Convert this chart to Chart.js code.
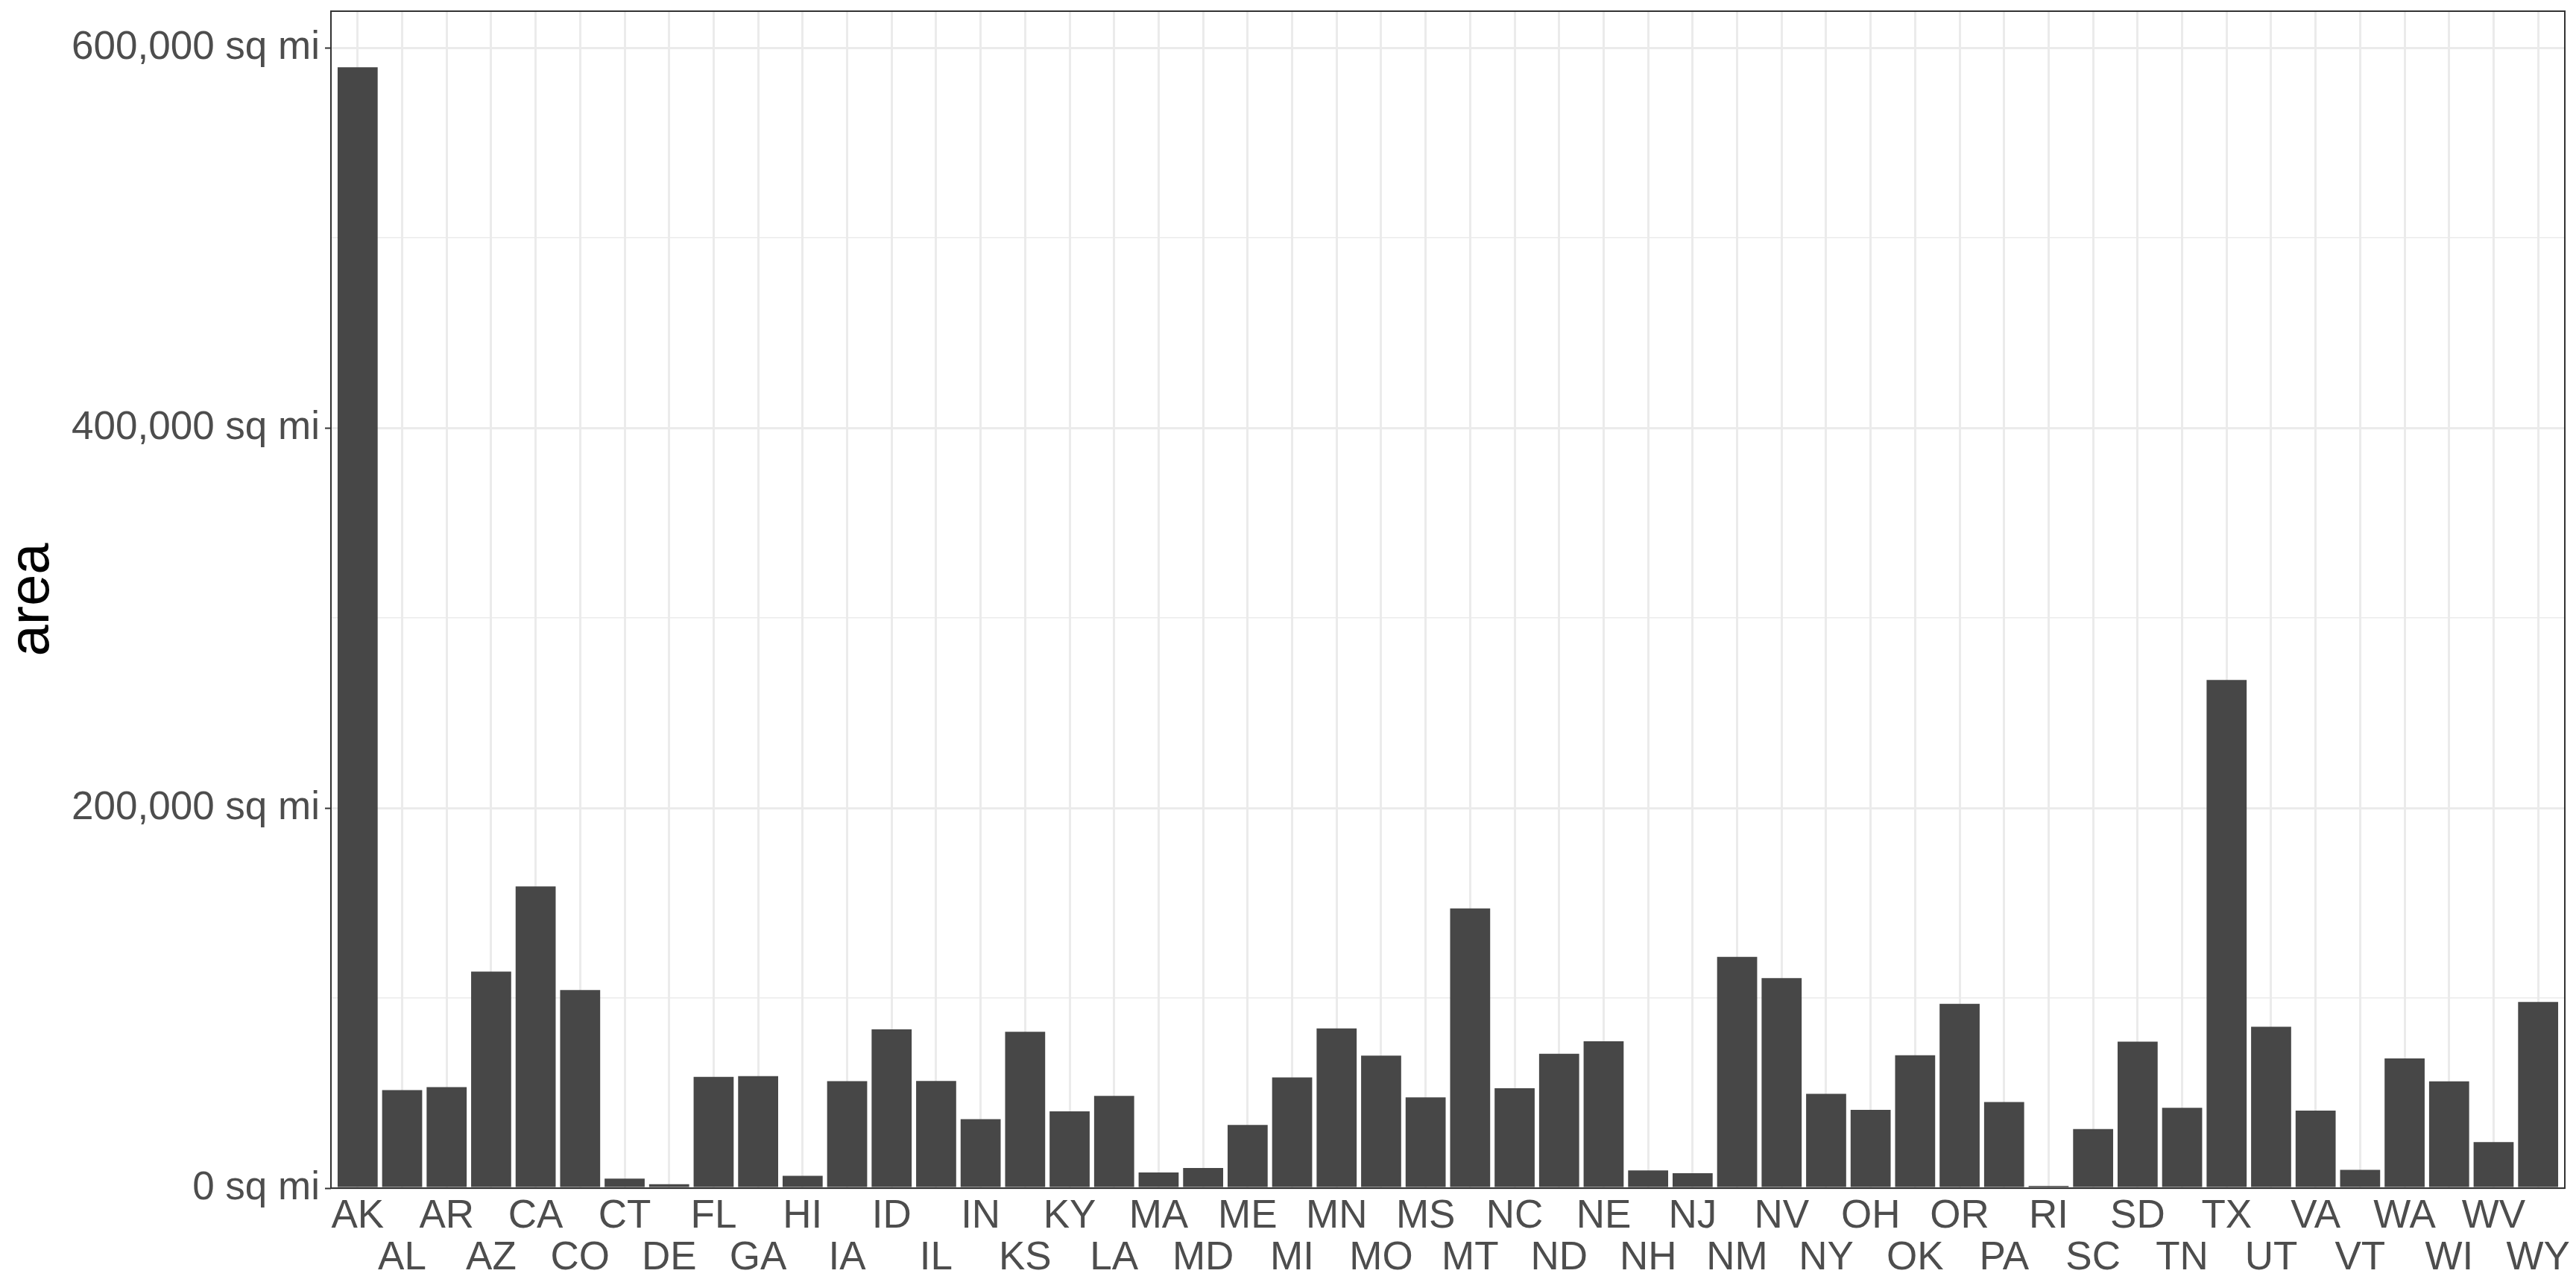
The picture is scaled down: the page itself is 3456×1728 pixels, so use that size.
<!DOCTYPE html>
<html>
<head>
<meta charset="utf-8">
<script src="https://cdn.jsdelivr.net/npm/chart.js@4/dist/chart.umd.min.js"></script>
<style>
  html, body { margin: 0; padding: 0; background: #ffffff; }
  #wrap { width: 3456px; height: 1728px; }
</style>
</head>
<body>
<div id="wrap"><canvas id="c" width="3456" height="1728"></canvas></div>
<script>
// ---- data ----
const states = ['AK','AL','AR','AZ','CA','CO','CT','DE','FL','GA','HI','IA','ID','IL','IN','KS','KY','LA','MA','MD',
                'ME','MI','MN','MO','MS','MT','NC','ND','NE','NH','NJ','NM','NV','NY','OH','OK','OR','PA','RI','SC',
                'SD','TN','TX','UT','VA','VT','WA','WI','WV','WY'];
const areaSqMi = [589757,51609,53104,113909,158693,104247,5009,2057,58560,58876,6450,56290,83557,56400,36291,82264,40395,48523,8257,10577,
                  33215,58216,84068,69686,47716,147138,52586,70665,77227,9304,7836,121666,110540,49576,41222,69919,96981,45333,1214,31055,
                  77047,42244,267339,84916,40815,9609,68192,56154,24181,97914];
const yLabelTicks = [0, 200000, 400000, 600000];
const yMinorTicks = [100000, 300000, 500000];
const yUnit = ' sq mi';
const yTitle = 'area';

// ---- chart ----
const FONT = "'Liberation Sans', Arial, sans-serif";
const points = states.map((s, i) => ({ x: i, y: areaSqMi[i] }));
const xMin = -0.6, xMax = states.length - 1 + 0.6;
const yMax = Math.max(...areaSqMi) * 1.05;
const yAllTicks = [...yLabelTicks, ...yMinorTicks].sort((a, b) => a - b);

const panelBorder = {
  id: 'panelBorder',
  afterDraw(chart) {
    const { ctx, chartArea: a } = chart;
    ctx.save();
    ctx.strokeStyle = '#333333';
    ctx.lineWidth = 2;
    ctx.strokeRect(a.left, a.top, a.right - a.left, a.bottom - a.top);
    ctx.restore();
  }
};

new Chart(document.getElementById('c'), {
  type: 'bar',
  data: {
    datasets: [{
      data: points,
      backgroundColor: '#474747',
      borderWidth: 0,
      categoryPercentage: 1.0,
      barPercentage: 0.9
    }]
  },
  plugins: [panelBorder],
  options: {
    responsive: false,
    animation: false,
    devicePixelRatio: 1,
    layout: { padding: { left: 0, top: 15, right: 15, bottom: 0 } },
    plugins: { legend: { display: false }, tooltip: { enabled: false }, title: { display: false } },
    scales: {
      x: {
        type: 'linear',
        offset: false,
        bounds: 'data',
        min: xMin,
        max: xMax,
        afterBuildTicks: (s) => { s.min = xMin; s.max = xMax; s.ticks = states.map((_, i) => ({ value: i })); },
        afterFit: (s) => { s.height = 134; s.paddingLeft = 0; s.paddingRight = 0; },
        border: { display: false },
        grid: { offset: false, color: '#EBEBEB', lineWidth: 3, drawTicks: false },
        ticks: {
          stepSize: 1,
          autoSkip: false,
          maxRotation: 0,
          minRotation: 0,
          padding: 10,
          color: '#4D4D4D',
          font: { family: FONT, size: 53, lineHeight: 56 / 53 },
          callback: (v) => {
            const lab = states[v];
            if (lab === undefined) return '';
            return v % 2 === 0 ? [lab] : ['', lab];
          }
        }
      },
      y: {
        type: 'linear',
        bounds: 'data',
        min: 0,
        max: yMax,
        afterBuildTicks: (s) => { s.min = 0; s.max = yMax; s.ticks = yAllTicks.map(v => ({ value: v })); },
        afterFit: (s) => { s.width = 444; s.paddingTop = 0; s.paddingBottom = 0; },
        border: { display: false },
        grid: {
          color: '#EBEBEB',
          lineWidth: (ctx) => yLabelTicks.includes(ctx.tick.value) ? 3 : 1.5,
          drawTicks: true,
          tickLength: 8,
          tickWidth: 2,
          tickColor: (ctx) => yLabelTicks.includes(ctx.tick.value) ? '#333333' : 'rgba(0,0,0,0)'
        },
        ticks: {
          stepSize: 100000,
          autoSkip: false,
          padding: 7,
          color: '#4D4D4D',
          font: { family: FONT, size: 53 },
          callback: (v) => yLabelTicks.includes(v) ? v.toLocaleString('en-US') + yUnit : ''
        },
        title: {
          display: true,
          text: yTitle,
          color: '#000000',
          font: { family: FONT, size: 76, lineHeight: 1.15 },
          padding: { top: 0, bottom: 0 }
        }
      }
    }
  }
});
</script>
</body>
</html>
